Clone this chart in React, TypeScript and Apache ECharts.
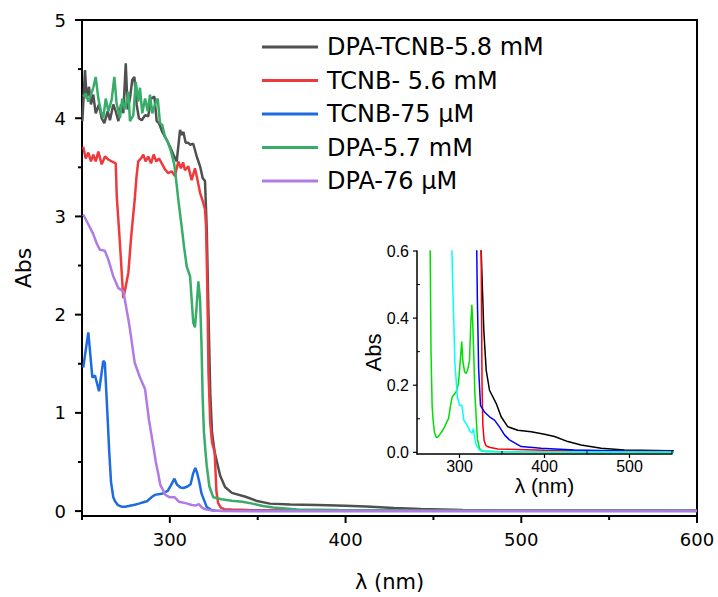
import React, { useEffect, useRef } from "react";
import * as echarts from "echarts";

// ---- data (wavelength nm, absorbance) ----
const dpaTcnb58: number[][] = [
  [250.2, 3.97], [251.7, 4.49], [252.7, 4.2], [254, 4.32], [255.1, 4.14], [256.4, 4.24], [257.8, 4.05],
  [259.7, 4.14], [261.2, 4.0], [262.7, 3.95], [264.6, 4.07], [265.9, 3.98], [267.8, 4.14], [269.2, 4.07],
  [270.7, 3.97], [272.2, 4.14], [273.5, 4.05], [274.9, 4.56], [276, 4.09], [277.3, 4.2], [278.6, 4.39],
  [279.8, 4.42], [281.1, 4.14], [282.4, 4.0], [284, 3.98], [285.9, 4.03], [287.7, 4.02], [289.3, 4.2],
  [291.2, 4.22], [292.5, 3.97], [293.8, 3.95], [295.7, 3.86], [298.2, 3.78], [300.1, 3.71], [302, 3.63],
  [303.9, 3.56], [305.8, 3.88], [306.7, 3.83], [307.7, 3.86], [309, 3.75], [310.5, 3.75], [311.5, 3.73],
  [313.3, 3.74], [315.3, 3.61], [317.2, 3.51], [318.7, 3.39], [320, 3.36], [321, 2.87], [322, 2.0],
  [323, 1.2], [324, 0.8], [325.5, 0.6], [328.6, 0.363], [331.4, 0.245], [335.3, 0.185], [343.1, 0.146],
  [349, 0.106], [356.9, 0.076], [368.6, 0.066], [384.3, 0.061], [400, 0.054], [411.8, 0.047],
  [427.5, 0.032], [443, 0.022], [466.7, 0.012], [494, 0.007], [549, 0.005], [600, 0.004],
];

const tcnb56: number[][] = [
  [250.7, 3.71], [252.1, 3.59], [253.6, 3.65], [255.1, 3.56], [256.4, 3.63], [257.8, 3.56], [259.3, 3.66],
  [261.2, 3.53], [263.1, 3.61], [265, 3.58], [266.9, 3.56], [269.2, 3.54], [269.8, 3.2], [271.5, 2.75],
  [273.5, 2.17], [274.5, 2.25], [276.4, 2.43], [278, 2.8], [280, 3.17], [281, 3.4], [282, 3.56],
  [283.6, 3.59], [284.9, 3.63], [286.2, 3.56], [287.7, 3.61], [289.3, 3.54], [290.8, 3.63], [292.3, 3.56],
  [293.8, 3.59], [295.7, 3.53], [297.2, 3.48], [299.1, 3.44], [301, 3.46], [302.9, 3.41], [304.8, 3.56],
  [306.3, 3.49], [307.5, 3.55], [308.6, 3.47], [310.5, 3.51], [312.4, 3.37], [314.3, 3.49], [315.3, 3.41],
  [317.2, 3.24], [319, 3.14], [320, 3.07], [320.6, 2.9], [321.3, 2.3], [322, 1.4], [323, 0.9], [324, 0.7],
  [325.5, 0.6], [326.5, 0.2], [327.5, 0.08], [329, 0.035], [331, 0.02], [335, 0.015], [345, 0.01],
  [400, 0.006], [500, 0.004], [600, 0.003],
];

const tcnb75: number[][] = [
  [250.7, 1.46], [253.6, 1.82], [255.9, 1.36], [257.4, 1.38], [259.7, 1.22], [262.1, 1.53], [263, 1.51],
  [264.6, 0.94], [265.5, 0.6], [266.5, 0.3], [267.8, 0.14], [268.8, 0.1], [270.5, 0.06], [272.5, 0.045],
  [274.5, 0.045], [276.5, 0.052], [280, 0.065], [282.4, 0.076], [285.9, 0.095], [287, 0.1], [289.5, 0.14],
  [291.4, 0.165], [296, 0.18], [298.8, 0.205], [300.5, 0.26], [302.6, 0.33], [304, 0.27], [306, 0.24],
  [307.8, 0.235], [310, 0.25], [311.8, 0.274], [313.2, 0.38], [314.5, 0.44], [315.5, 0.39], [316.9, 0.284],
  [318, 0.18], [319.6, 0.106], [321, 0.04], [323.5, 0.012], [326, 0.004], [350, 0.002], [600, 0.001],
];

const dpa57: number[][] = [
  [250.7, 4.22], [252.1, 4.25], [253.6, 4.17], [255.1, 4.24], [256.4, 4.31], [257.8, 4.42], [259.3, 4.2],
  [260.8, 4.07], [262.1, 4.0], [263.5, 4.2], [265, 4.07], [266.9, 4.19], [268.4, 4.42], [269.7, 4.15],
  [271.6, 4.0], [272.9, 4.2], [274.5, 4.09], [276.4, 4.27], [277.3, 3.97], [279.2, 4.03], [280.6, 4.37],
  [282, 4.17], [283, 4.31], [284.3, 4.05], [285.9, 4.2], [287.4, 4.07], [288.7, 4.24], [290, 4.05],
  [291.5, 4.14], [293.1, 4.2], [294.4, 3.95], [295.7, 3.93], [297.2, 3.81], [298.8, 3.76], [300.7, 3.66],
  [302.5, 3.53], [303.9, 3.32], [304.8, 3.17], [306.7, 2.9], [308, 2.7], [309.6, 2.49], [311.5, 2.39],
  [313.3, 1.92], [314.3, 1.87], [315.3, 2.1], [316.2, 2.34], [317.2, 2.15], [318, 1.7], [318.7, 1.14],
  [319.4, 0.8], [320.3, 0.6], [321, 0.46], [322.5, 0.25], [324.7, 0.14], [329.4, 0.12], [335.3, 0.106],
  [341.2, 0.096], [347, 0.076], [352.9, 0.052], [358.8, 0.037], [372.5, 0.017], [396, 0.012], [435, 0.007],
  [494, 0.004], [549, 0.003], [600, 0.003],
];

const dpa76: number[][] = [
  [250.7, 3.02], [253.6, 2.92], [256.4, 2.82], [258.5, 2.72], [260.2, 2.66], [263, 2.65], [265, 2.56],
  [267.8, 2.39], [270.7, 2.27], [273.5, 2.24], [275.4, 2.05], [276.4, 1.95], [277.3, 1.85], [280, 1.51],
  [283, 1.36], [285.9, 1.24], [288.1, 0.93], [290.6, 0.66], [292, 0.5], [293.4, 0.38], [294.5, 0.27],
  [297.5, 0.165], [300, 0.14], [302.8, 0.14], [305.1, 0.096], [309, 0.081], [312.4, 0.062], [314.9, 0.058],
  [316.5, 0.071], [318, 0.04], [319.6, 0.022], [323.5, 0.007], [330, 0.002], [600, 0.001],
];

const seriesNames = ["DPA-TCNB-5.8 mM", "TCNB- 5.6 mM", "TCNB-75 μM", "DPA-5.7 mM", "DPA-76 μM"];
const seriesData = [dpaTcnb58, tcnb56, tcnb75, dpa57, dpa76];
const mainColors = ["#505050", "#ee3a3c", "#1e6be0", "#38ac69", "#b07ce4"];
const insetColors = ["#000000", "#ff0000", "#00dd00", "#0000ff", "#00ffff"];
const insetOrder = [0, 1, 3, 2, 4];

// ---- axis ranges and ticks ----
const mainX = [250, 600];
const mainY = [-0.05, 5];
const insetX = [250, 550];
const insetY = [-0.005, 0.6];
const mainXMajor = [300, 400, 500, 600];
const mainXMinor = [250, 350, 450, 550];
const mainYMajor = [0, 1, 2, 3, 4, 5];
const mainYMinor = [0.5, 1.5, 2.5, 3.5, 4.5];
const insetXMajor = [300, 400, 500];
const insetXMinor = [350, 450, 550];
const insetYMajor = [0, 0.2, 0.4, 0.6];
const insetYMinor = [0.1, 0.3, 0.5];

const F_MAIN = "DejaVu Sans";
const F_INSET = "Liberation Sans";

function tickSeries(axisIdx: number, data: number[][], dir: "x" | "y", len: number, width: number) {
  return {
    type: "custom",
    coordinateSystem: "cartesian2d",
    xAxisIndex: axisIdx,
    yAxisIndex: axisIdx,
    data,
    clip: false,
    silent: true,
    z: 10,
    renderItem: (_params: any, api: any) => {
      const p = api.coord([api.value(0), api.value(1)]);
      const shape =
        dir === "x"
          ? { x1: p[0], y1: p[1], x2: p[0], y2: p[1] + len }
          : { x1: p[0] - len, y1: p[1], x2: p[0], y2: p[1] };
      return { type: "line", shape, style: { stroke: "#000", lineWidth: width } };
    },
  };
}

export default function App() {
  const ref = useRef<HTMLDivElement>(null);

  useEffect(() => {
    if (!ref.current) return;
    const chart = echarts.init(ref.current, undefined, { renderer: "svg" });

    const blk = "#000";
    const mainSeries = seriesData.map((d, i) => ({
      type: "line",
      name: seriesNames[i],
      xAxisIndex: 0,
      yAxisIndex: 0,
      data: d,
      symbol: "none",
      showSymbol: false,
      color: mainColors[i],
      lineStyle: { color: mainColors[i], width: 2.5 },
      clip: true,
      z: 3,
    }));
    const insetSeries = insetOrder.map((i) => ({
      type: "line",
      name: "inset " + seriesNames[i],
      xAxisIndex: 1,
      yAxisIndex: 1,
      data: seriesData[i],
      symbol: "none",
      showSymbol: false,
      color: insetColors[i],
      lineStyle: { color: insetColors[i], width: 1.5 },
      clip: true,
      z: 3,
    }));

    const ticks = [
      tickSeries(0, mainXMajor.map((v) => [v, mainY[0]]), "x", 7, 2),
      tickSeries(0, mainXMinor.map((v) => [v, mainY[0]]), "x", 4, 2),
      tickSeries(0, mainYMajor.map((v) => [mainX[0], v]), "y", 7, 2),
      tickSeries(0, mainYMinor.map((v) => [mainX[0], v]), "y", 4, 2),
      tickSeries(1, insetXMajor.map((v) => [v, insetY[0]]), "x", 4, 1.2),
      tickSeries(1, insetXMinor.map((v) => [v, insetY[0]]), "x", -3, 1),
      tickSeries(1, insetYMajor.map((v) => [insetX[0], v]), "y", 4, 1.2),
      tickSeries(1, insetYMinor.map((v) => [insetX[0], v]), "y", -3, 1),
    ];

    chart.setOption({
      animation: false,
      backgroundColor: "#fff",
      grid: [
        { left: 82, right: 21, top: 20, bottom: 80, show: true, borderColor: blk, borderWidth: 2, backgroundColor: "transparent" },
        { left: 417, right: 46, top: 251, bottom: 143 },
      ],
      legend: {
        show: true,
        orient: "vertical",
        left: 262,
        top: 33,
        padding: 0,
        itemWidth: 56,
        itemHeight: 3,
        itemGap: 5.5,
        icon: "rect",
        data: seriesNames,
        selectedMode: false,
        textStyle: { fontSize: 24, fontFamily: F_MAIN, color: blk, lineHeight: 28, padding: [0, 0, 0, 4] },
      },
      xAxis: [
        {
          type: "value", gridIndex: 0, min: mainX[0], max: mainX[1], position: "bottom",
          axisLine: { show: true, onZero: false, lineStyle: { color: blk, width: 2 } },
          axisTick: { show: false },
          axisLabel: { customValues: mainXMajor, color: blk, fontSize: 18, fontFamily: F_MAIN, margin: 14 },
          splitLine: { show: false },
          name: "λ (nm)", nameLocation: "middle", nameGap: 55, nameMoveOverlap: false,
          nameTextStyle: { fontSize: 21, fontFamily: F_MAIN, color: blk },
        },
        {
          type: "value", gridIndex: 1, min: insetX[0], max: insetX[1], position: "bottom",
          axisLine: { show: true, onZero: false, lineStyle: { color: blk, width: 1.5 } },
          axisTick: { show: false },
          axisLabel: { customValues: insetXMajor, color: blk, fontSize: 16, fontFamily: F_INSET, margin: 4 },
          splitLine: { show: false },
          name: "λ (nm)", nameLocation: "middle", nameGap: 21, nameMoveOverlap: false,
          nameTextStyle: { fontSize: 21, fontFamily: F_INSET, color: blk },
        },
      ],
      yAxis: [
        {
          type: "value", gridIndex: 0, min: mainY[0], max: mainY[1], position: "left",
          axisLine: { show: true, onZero: false, lineStyle: { color: blk, width: 2 } },
          axisTick: { show: false },
          axisLabel: { customValues: mainYMajor, color: blk, fontSize: 18, fontFamily: F_MAIN, margin: 16 },
          splitLine: { show: false },
          name: "Abs", nameLocation: "middle", nameGap: 48, nameMoveOverlap: false,
          nameTextStyle: { fontSize: 22, fontFamily: F_MAIN, color: blk },
        },
        {
          type: "value", gridIndex: 1, min: insetY[0], max: insetY[1], position: "left",
          axisLine: { show: true, onZero: false, lineStyle: { color: blk, width: 1.5 } },
          axisTick: { show: false },
          axisLabel: {
            customValues: insetYMajor, color: blk, fontSize: 16, fontFamily: F_INSET, margin: 8,
            formatter: (v: number) => v.toFixed(1),
          },
          splitLine: { show: false },
          name: "Abs", nameLocation: "middle", nameGap: 33, nameMoveOverlap: false,
          nameTextStyle: { fontSize: 22, fontFamily: F_INSET, color: blk },
        },
      ],
      series: [...mainSeries, ...insetSeries, ...ticks],
    });

    return () => chart.dispose();
  }, []);

  return (
    <div
      ref={ref}
      style={{ position: "absolute", left: 0, top: 0, width: 718, height: 597 }}
    />
  );
}
